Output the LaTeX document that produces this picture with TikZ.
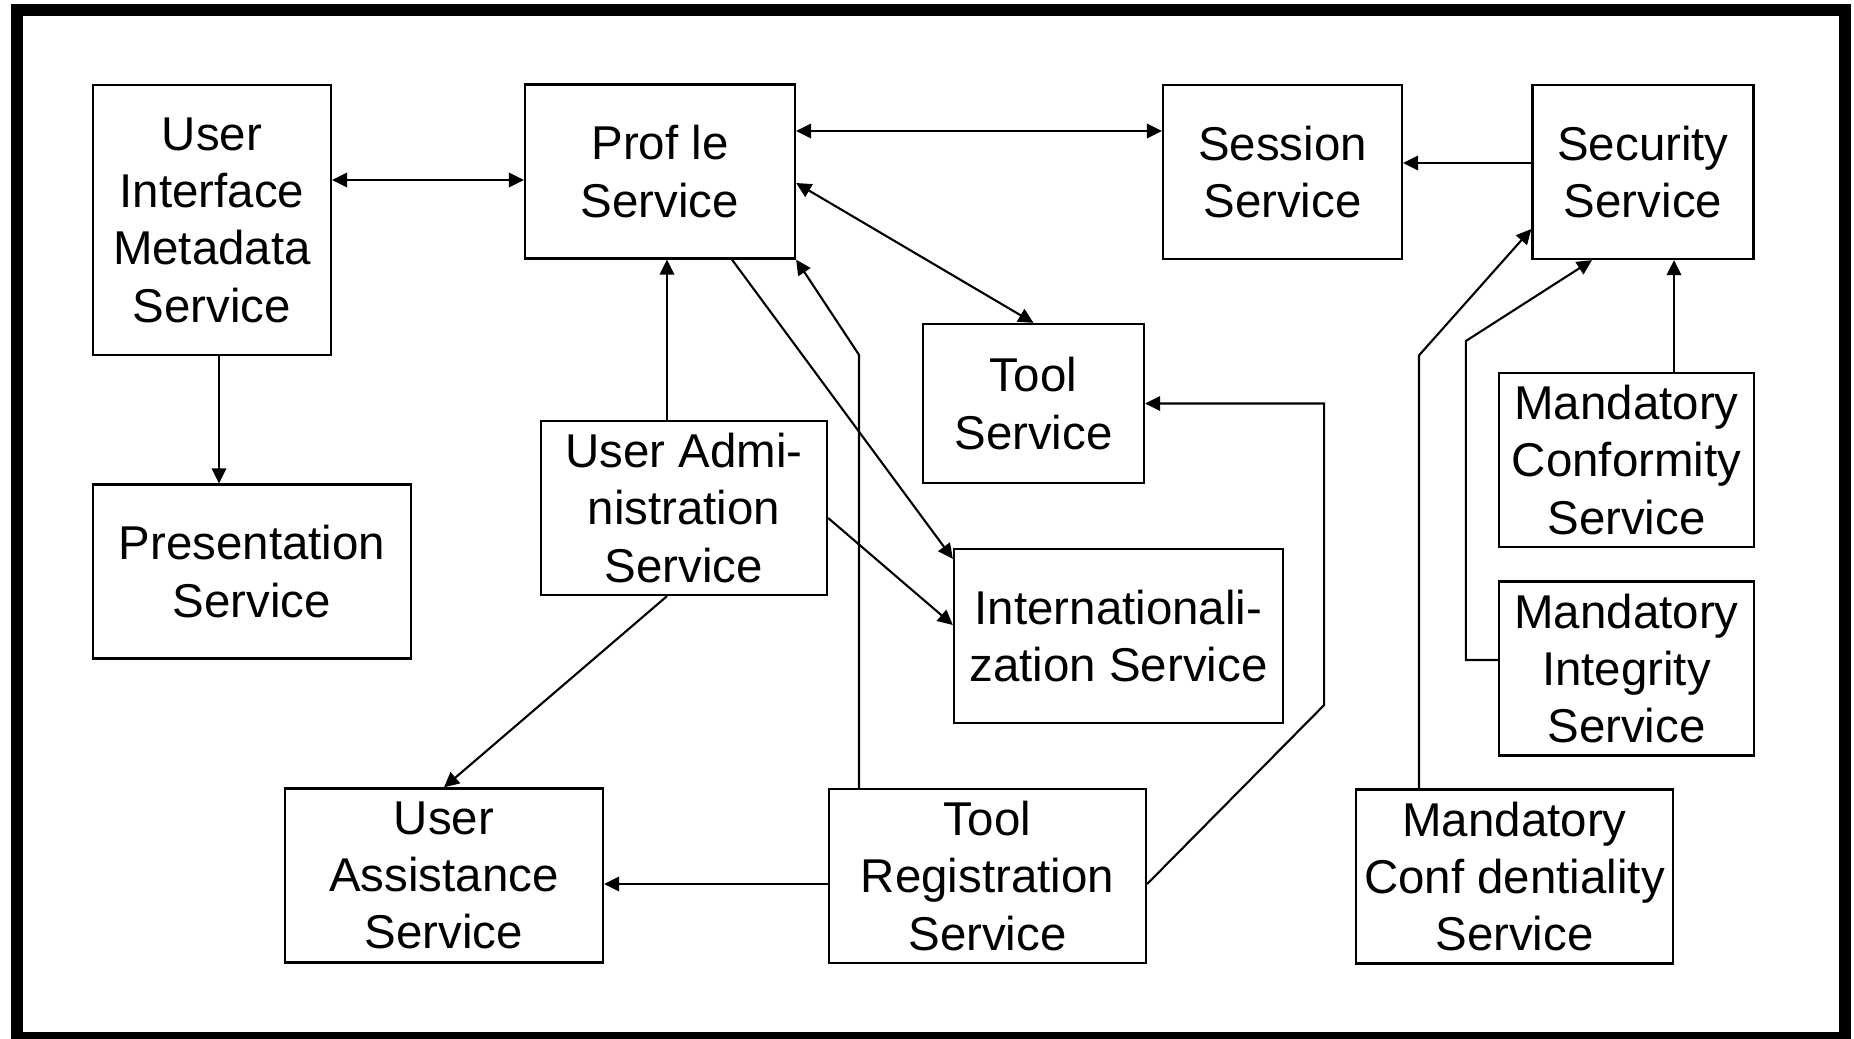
\documentclass[tikz,border=0pt]{standalone}
\usepackage{fontspec}
\setmainfont{Liberation Sans}
\usetikzlibrary{arrows.meta,positioning,calc}

\tikzset{
  svc/.style={draw, line width=0.65pt, align=center, inner sep=0pt,
    minimum height=1.74cm, font=\fontsize{13.5}{16.3}\selectfont},
  link/.style={line width=0.6pt, -{Triangle[length=1.5mm,width=1.45mm]}},
  dlink/.style={line width=0.6pt, {Triangle[length=1.5mm,width=1.45mm]}-{Triangle[length=1.5mm,width=1.45mm]}},
}

\begin{document}
\begin{tikzpicture}
    \useasboundingbox (0,0) rectangle (18.54,10.38);
    % Frame
    \draw[line width=0.12cm] (0.17,0) rectangle (18.445,10.28);

    % Top row
    \node[svc, minimum width=2.38cm, minimum height=2.70cm] (uim) at (2.12,8.18) {User\\Interface\\Metadata\\Service};
    \node[svc, minimum width=2.70cm] (prof) at (6.60,8.665) {Prof le\\Service};
    \node[svc, minimum width=2.39cm] (sess) at (12.825,8.66) {Session\\Service};
    \node[svc, minimum width=2.21cm] (sec) at (16.43,8.66) {Security\\Service};

    % Middle
    \node[svc, minimum width=2.21cm, minimum height=1.59cm] (tool) at (10.335,6.345) {Tool\\Service};
    \node[svc, minimum width=2.86cm] (uadm) at (6.84,5.30) {User Admi-\\nistration\\Service};
    \node[svc, minimum width=3.18cm] (pres) at (2.52,4.665) {Presentation\\Service};
    \node[svc, minimum width=3.29cm] (intl) at (11.185,4.02) {Internationali-\\zation Service};
    \node[svc, minimum width=2.55cm] (mconform) at (16.265,5.78) {Mandatory\\Conformity\\Service};
    \node[svc, minimum width=2.55cm] (minteg) at (16.265,3.695) {Mandatory\\Integrity\\Service};

    % Bottom row
    \node[svc, minimum width=3.18cm] (uassist) at (4.44,1.625) {User\\Assistance\\Service};
    \node[svc, minimum width=3.17cm] (treg) at (9.875,1.62) {Tool\\Registration\\Service};
    \node[svc, minimum width=3.17cm] (mconfid) at (15.145,1.615) {Mandatory\\Conf dentiality\\Service};

    % Connectors
    \draw[dlink] ([yshift=0.4cm]uim.east) -- ([yshift=0.4cm]uim.east -| prof.west);
    \draw[link] ([xshift=0.07cm]uim.south) -- ([xshift=0.07cm]uim.south |- pres.north);
    \draw[dlink] ([yshift=0.405cm]prof.east) -- ([yshift=0.405cm]prof.east -| sess.west);
    \draw[link] ([yshift=0.09cm]sec.west) -- ([yshift=0.09cm]sec.west -| sess.east);
    \draw[dlink] ([yshift=-0.115cm]prof.east) -- (tool.north);
    \draw[link] ([xshift=-0.17cm]uadm.north) -- ([xshift=-0.17cm]uadm.north |- prof.south);
    \draw[link] ([xshift=0.72cm]prof.south) -- ([yshift=-0.11cm]intl.north west);
    \draw[link] ([yshift=-0.1cm]uadm.east) -- ([yshift=0.11cm]intl.west);
    \draw[link] ([xshift=-0.17cm]uadm.south) -- (uassist.north);
    \draw[link] ([xshift=-1.285cm]treg.north) -- ++(0,4.33) -- (prof.south east);
    \draw[link] ([yshift=-0.08cm]treg.east) -- ++(1.77,1.79) |- (tool.east);
    \draw[link] ([yshift=-0.08cm]treg.west) -- ([yshift=-0.08cm]treg.west -| uassist.east);
    \draw[link] ([xshift=-0.955cm]mconfid.north) -- ++(0,4.33) -- ([yshift=-0.57cm]sec.west);
    \draw[link] ([yshift=0.085cm]minteg.west) -- ++(-0.32,0) -- ++(0,3.19) -- ([xshift=-0.51cm]sec.south);
    \draw[link] ([xshift=0.475cm]mconform.north) -- ([xshift=0.475cm]mconform.north |- sec.south);
\end{tikzpicture}
\end{document}
